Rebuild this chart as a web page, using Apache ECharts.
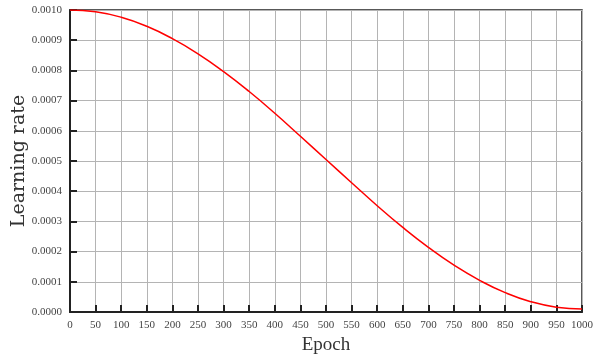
<!DOCTYPE html>
<html>
<head>
<meta charset="utf-8">
<script src="https://cdn.jsdelivr.net/npm/echarts@6/dist/echarts.min.js"></script>
<style>
  html, body { margin: 0; padding: 0; background: #fff; }
  #chart { width: 600px; height: 359px; }
</style>
</head>
<body>
<div id="chart"></div>
<script>
// values
var epochs = [0, 50, 100, 150, 200, 250, 300, 350, 400, 450, 500,
              550, 600, 650, 700, 750, 800, 850, 900, 950, 1000];
var lr = [0.001, 0.000994, 0.000976, 0.000946, 0.000905, 0.000855, 0.000796,
          0.00073, 0.000658, 0.000582, 0.000505, 0.000428, 0.000352, 0.00028,
          0.000214, 0.000155, 0.000105, 0.000064, 0.000034, 0.000016, 0.00001];

var serif = '"Liberation Serif", "DejaVu Serif", serif';
var wideSerif = '"DejaVu Serif", "Liberation Serif", serif';
var myChart = echarts.init(document.getElementById('chart'));

var points = [];
for (var i = 0; i < epochs.length; i++) {
    points.push([epochs[i], lr[i]]);
}

var option = {
    backgroundColor: '#fff',
    animation: false,
    grid: {
        left: 70,
        right: 18,
        top: 10,
        bottom: 47,
        outerBoundsMode: 'none',
        containLabel: false,
        show: true,
        borderColor: '#222',
        borderWidth: 1.5
    },
    xAxis: {
        type: 'value',
        min: 0,
        max: 1000,
        interval: 50,
        name: 'Epoch',
        nameLocation: 'middle',
        nameGap: 24,
        nameMoveOverlap: false,
        nameTextStyle: { fontFamily: serif, fontSize: 19, color: '#333' },
        axisLine: { show: true, lineStyle: { color: '#222', width: 2 } },
        axisTick: { show: true, inside: true, length: 7, lineStyle: { color: '#222', width: 2 } },
        axisLabel: {
            fontFamily: serif, fontSize: 11, color: '#444', margin: 8,
            formatter: function (v) { return String(v); }
        },
        splitLine: { show: true, lineStyle: { color: '#b4b4b4', width: 1 } }
    },
    yAxis: {
        type: 'value',
        min: 0,
        max: 0.001,
        interval: 0.0001,
        name: 'Learning rate',
        nameLocation: 'middle',
        nameGap: 41,
        nameMoveOverlap: false,
        nameTextStyle: { fontFamily: wideSerif, fontSize: 19, color: '#333' },
        axisLine: { show: true, lineStyle: { color: '#222', width: 2 } },
        axisTick: { show: true, inside: true, length: 7, lineStyle: { color: '#222', width: 2 } },
        axisLabel: {
            fontFamily: serif, fontSize: 11, color: '#444', margin: 8,
            formatter: function (v) { return v.toFixed(4); }
        },
        splitLine: { show: true, lineStyle: { color: '#b4b4b4', width: 1 } }
    },
    series: [{
        type: 'line',
        data: points,
        smooth: true,
        showSymbol: false,
        lineStyle: { color: '#ff0000', width: 1.5 }
    }]
};
myChart.setOption(option);
</script>
</body>
</html>
